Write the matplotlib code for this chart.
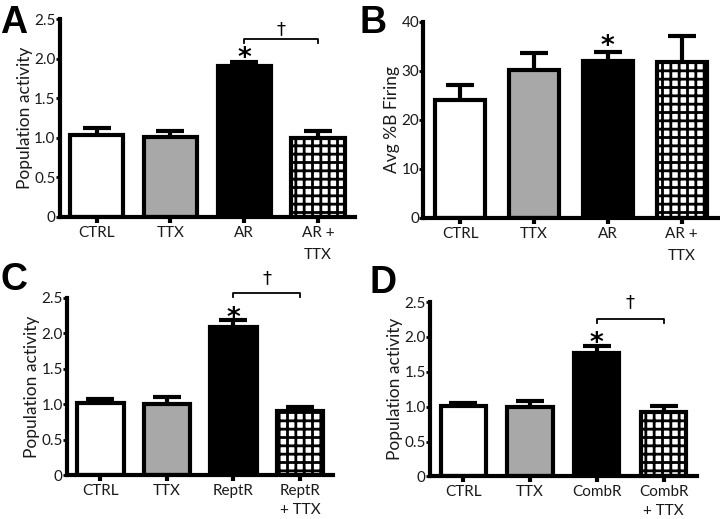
import matplotlib
matplotlib.use("Agg")
import matplotlib.pyplot as plt
import numpy as np

plt.rcParams['font.family'] = ['Lato', 'DejaVu Sans']
plt.rcParams['hatch.linewidth'] = 2.0

# ---- data ----
labels_A = ["CTRL", "TTX", "AR", "AR +\nTTX"]
means_A = [1.03, 1.01, 1.91, 1.00]
errs_A = [0.09, 0.08, 0.05, 0.09]

labels_B = ["CTRL", "TTX", "AR", "AR +\nTTX"]
means_B = [24.1, 30.1, 32.1, 31.8]
errs_B = [3.0, 3.5, 1.8, 5.3]

labels_C = ["CTRL", "TTX", "ReptR", "ReptR\n+ TTX"]
means_C = [1.02, 1.00, 2.09, 0.91]
errs_C = [0.05, 0.10, 0.10, 0.06]

labels_D = ["CTRL", "TTX", "CombR", "CombR\n+ TTX"]
means_D = [1.01, 0.99, 1.77, 0.93]
errs_D = [0.05, 0.09, 0.10, 0.08]

yticks_pop = [0, 0.5, 1.0, 1.5, 2.0, 2.5]
yticklabels_pop = ["0", "0.5", "1.0", "1.5", "2.0", "2.5"]
yticks_B = [0, 10, 20, 30, 40]

facecolors = ["white", "#a8a8a8", "black", "white"]
hatches = [None, None, None, "++"]

LW = 3.0
FS_TICK = 11
FS_LABEL = 12.5

fig = plt.figure(figsize=(7.2, 5.19), dpi=100)
H = 519.0

def panel(rect, labels, means, errs, ylim, yticks, yticklabels, ylabel,
          letter, letter_xy, width, star_y, bracket=None, lsp=1.75):
    ax = fig.add_axes(rect)
    x = np.arange(len(labels))
    for i in range(len(labels)):
        ax.bar(x[i], means[i], width=width, color=facecolors[i],
               edgecolor="black", linewidth=LW, hatch=hatches[i], zorder=2)
    eb = ax.errorbar(x, means, yerr=[np.zeros(len(errs)), errs], fmt="none",
                     ecolor="black", elinewidth=LW, capsize=10, capthick=LW,
                     zorder=3)
    eb.lines[1][0].set_visible(False)
    ax.set_xlim(-0.5, 3.5)
    ax.set_ylim(*ylim)
    ax.set_yticks(yticks)
    ax.set_yticklabels(yticklabels, fontsize=FS_TICK, color="#1a1a1a")
    ax.set_xticks(x)
    ax.set_xticklabels(labels, fontsize=FS_TICK, color="#1a1a1a",
                       linespacing=lsp)
    ax.set_ylabel(ylabel, fontsize=FS_LABEL, color="#1a1a1a", labelpad=1)
    for s in ["top", "right"]:
        ax.spines[s].set_visible(False)
    for s in ["left", "bottom"]:
        ax.spines[s].set_linewidth(LW)
    ax.tick_params(axis="y", direction="out", length=3, width=2, pad=0)
    ax.tick_params(axis="x", direction="out", length=4.5, width=3, pad=2)
    ax.text(x[2], star_y, "*", ha="center", va="center", fontsize=19,
            fontweight="bold", family="DejaVu Sans")
    if bracket is not None:
        by, tick, dy = bracket
        ax.plot([x[2], x[2], x[3], x[3]], [by - tick, by, by, by - tick],
                color="black", lw=1.3, clip_on=False)
        ax.text((x[2] + x[3]) / 2, dy, "\u2020", ha="center", va="center",
                fontsize=13, family="DejaVu Sans")
    fig.text(letter_xy[0] / 720.0, 1 - letter_xy[1] / H, letter,
             fontsize=27, fontweight="bold", family="Liberation Sans",
             va="baseline", ha="left")
    return ax

panel([0.083, 0.582, 0.410, 0.381], labels_A, means_A, errs_A, (0, 2.5),
      yticks_pop, yticklabels_pop, "Population activity", "A", (0, 33),
      0.72, 2.0, bracket=(2.25, 0.05, 2.37))
panel([0.588, 0.580, 0.410, 0.378], labels_B, means_B, errs_B, (0, 40),
      yticks_B, [str(v) for v in yticks_B], "Avg %B Firing", "B", (360, 33),
      0.68, 34.8)
panel([0.093, 0.084, 0.370, 0.342], labels_C, means_C, errs_C, (0, 2.5),
      yticks_pop, yticklabels_pop, "Population activity", "C", (0, 290),
      0.7, 2.2, bracket=(2.57, 0.06, 2.78), lsp=1.45)
panel([0.597, 0.082, 0.371, 0.336], labels_D, means_D, errs_D, (0, 2.5),
      yticks_pop, yticklabels_pop, "Population activity", "D", (370, 293),
      0.68, 1.9, bracket=(2.26, 0.06, 2.5), lsp=1.45)

fig.savefig("out.png", dpi=100, facecolor="white")
